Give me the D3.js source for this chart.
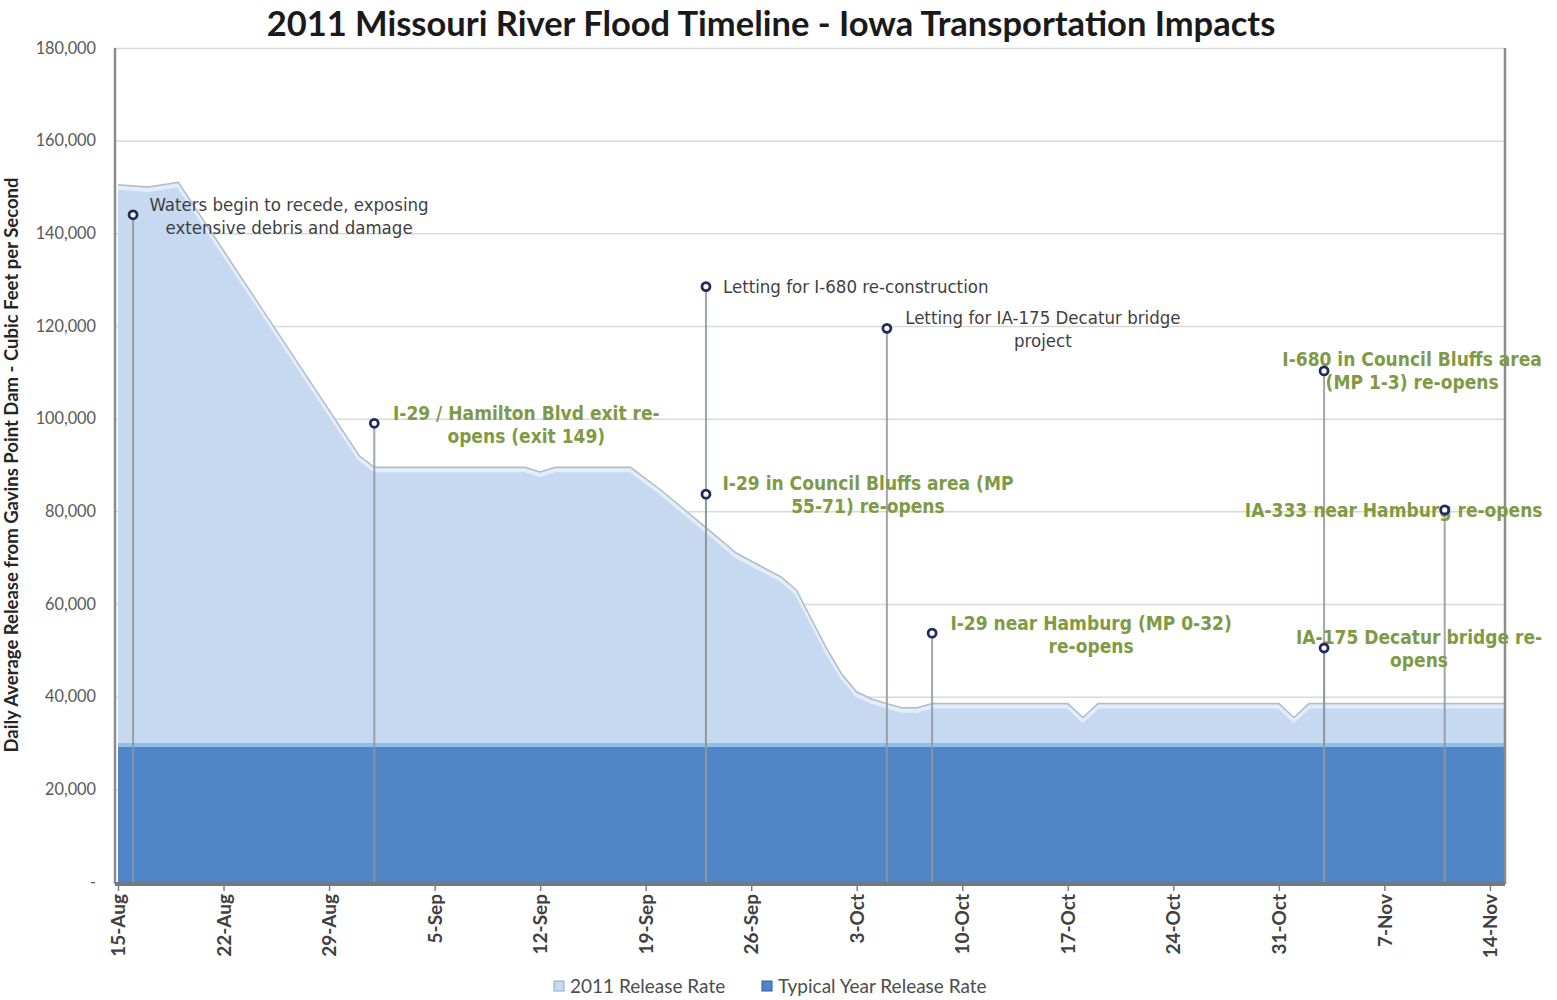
<!DOCTYPE html>
<html lang="en">
<head>
  <meta charset="UTF-8">
  <title>2011 Missouri River Flood Timeline - Iowa Transportation Impacts</title>
  <script src="https://d3js.org/d3.v7.min.js"></script>
  <style>
    body { margin: 0; background: #ffffff; overflow: hidden; }
    svg { display: block; }
    .grid line { stroke: #d9d9d9; stroke-width: 1.5px; }
    .grid .domain { display: none; }
    .yaxis text { font: 16.3px Lato, "Liberation Sans", sans-serif; fill: #595959; }
    .yaxis .domain, .yaxis line { display: none; }
    .xaxis text { font: bold 19px Lato, "Liberation Sans", sans-serif; fill: #404040; }
    .xaxis line { stroke: #7f7f7f; stroke-width: 1.5px; }
    .xaxis .domain { display: none; }
    .note-dark { font: 18.5px "DejaVu Sans Condensed", "DejaVu Sans", sans-serif; fill: #3f3f3f; }
    .note-green { font: bold 19px "DejaVu Sans Condensed", "DejaVu Sans", sans-serif; fill: #7f9a45; }
  </style>
</head>
<body>
  <svg id="chart" width="1557" height="1000"></svg>

  <script>
    // 2011 release rate (cfs)
    const releaseDates = [
      "2011-08-15", "2011-08-17", "2011-08-19", "2011-08-31", "2011-09-01",
      "2011-09-11", "2011-09-12", "2011-09-13", "2011-09-18", "2011-09-20",
      "2011-09-23", "2011-09-25", "2011-09-28", "2011-09-29", "2011-10-01",
      "2011-10-02", "2011-10-03", "2011-10-04", "2011-10-05", "2011-10-06",
      "2011-10-07", "2011-10-08", "2011-10-17", "2011-10-18", "2011-10-19",
      "2011-10-31", "2011-11-01", "2011-11-02", "2011-11-15"
    ];
    const releaseValues = [
      150500, 150000, 151000, 92000, 89500,
      89500, 88500, 89500, 89500, 84600,
      76500, 71000, 65800, 63000, 50400,
      44900, 41000, 39500, 38500, 37600,
      37600, 38500, 38500, 35500, 38500,
      38500, 35500, 38500, 38500
    ];

    // typical year release rate
    const typicalDates = ["2011-08-15", "2011-11-15"];
    const typicalValues = [30000, 30000];

    // timeline events
    const eventDates = [
      "2011-08-16", "2011-09-01", "2011-09-23", "2011-09-23", "2011-10-05",
      "2011-10-08", "2011-11-03", "2011-11-03", "2011-11-11"
    ];
    const eventValues = [144000, 99000, 128500, 83700, 119500, 53700, 110300, 50500, 80300];
    const eventLabels = [
      ["Waters begin to recede, exposing", "extensive debris and damage"],
      ["I-29 / Hamilton Blvd exit re-", "opens (exit 149)"],
      ["Letting for I-680 re-construction"],
      ["I-29 in Council Bluffs area (MP", "55-71) re-opens"],
      ["Letting for IA-175 Decatur bridge", "project"],
      ["I-29 near Hamburg (MP 0-32)", "re-opens"],
      ["I-680 in Council Bluffs area", "(MP 1-3) re-opens"],
      ["IA-175 Decatur bridge re-", "opens"],
      ["IA-333 near Hamburg re-opens"]
    ];
    const eventKinds = ["note", "reopen", "note", "reopen", "note", "reopen", "reopen", "reopen", "reopen"];

    // label placement relative to each marker (layout only)
    const labelLayout = [
      { dx: 156, dy: -4, anchor: "middle" },
      { dx: 152, dy: -3, anchor: "middle" },
      { dx: 17, dy: 6, anchor: "start" },
      { dx: 162, dy: -4, anchor: "middle" },
      { dx: 156, dy: -4, anchor: "middle" },
      { dx: 159, dy: -3, anchor: "middle" },
      { dx: 88, dy: -5, anchor: "middle" },
      { dx: 95, dy: -4, anchor: "middle" },
      { dx: -51, dy: 7, anchor: "middle" }
    ];

    const yTicks = [0, 20000, 40000, 60000, 80000, 100000, 120000, 140000, 160000, 180000];
    const xTickDates = [
      "2011-08-15", "2011-08-22", "2011-08-29", "2011-09-05", "2011-09-12", "2011-09-19",
      "2011-09-26", "2011-10-03", "2011-10-10", "2011-10-17", "2011-10-24", "2011-10-31",
      "2011-11-07", "2011-11-14"
    ];
    const seriesNames = ["2011 Release Rate", "Typical Year Release Rate"];

    const parseDate = d3.utcParse("%Y-%m-%d");
    const plotLeft = 115, plotRight = 1505, plotTop = 48, plotBottom = 882;

    const x = d3.scaleUtc()
      .domain([parseDate("2011-08-15"), parseDate("2011-11-15")])
      .range([118, plotRight]);
    const y = d3.scaleLinear().domain([0, 180000]).range([plotBottom, plotTop]);

    const svg = d3.select("#chart");

    const release = releaseDates.map((d, i) => ({ date: parseDate(d), value: releaseValues[i] }));
    const typical = typicalDates.map((d, i) => ({ date: parseDate(d), value: typicalValues[i] }));

    // title
    svg.append("text")
      .attr("x", 771).attr("y", 36)
      .attr("text-anchor", "middle")
      .style("font", "bold 34.5px Lato, 'Liberation Sans', sans-serif")
      .style("fill", "#1a1a1a")
      .text("2011 Missouri River Flood Timeline - Iowa Transportation Impacts");

    // gridlines
    svg.append("g")
      .attr("class", "grid")
      .attr("transform", `translate(${plotLeft},0)`)
      .call(d3.axisLeft(y).tickValues(yTicks.slice(1)).tickSize(-(plotRight - plotLeft)).tickFormat(""));

    svg.append("defs").append("clipPath").attr("id", "plot")
      .append("rect").attr("x", plotLeft).attr("y", plotTop)
      .attr("width", plotRight - plotLeft).attr("height", plotBottom - plotTop);

    const plot = svg.append("g").attr("clip-path", "url(#plot)");

    const area = d3.area().x(d => x(d.date)).y0(y(0)).y1(d => y(d.value));
    const line = d3.line().x(d => x(d.date)).y(d => y(d.value));

    // 2011 release area
    plot.append("path").datum(release)
      .attr("d", area)
      .attr("fill", "#c6d9f1");
    plot.append("path").datum(release)
      .attr("d", line)
      .attr("transform", "translate(0,3)")
      .attr("fill", "none")
      .attr("stroke", "#e3edf9")
      .attr("stroke-width", 4);
    plot.append("path").datum(release)
      .attr("d", line)
      .attr("fill", "none")
      .attr("stroke", "#b2bcc8")
      .attr("stroke-width", 1.5);

    // typical year area
    plot.append("path").datum(typical)
      .attr("d", area)
      .attr("fill", "#5086c8");
    plot.append("path").datum(typical)
      .attr("d", line)
      .attr("transform", "translate(0,2)")
      .attr("fill", "none")
      .attr("stroke", "#8fbdec")
      .attr("stroke-width", 4);

    // y axis labels
    svg.append("g")
      .attr("class", "yaxis")
      .attr("transform", `translate(${plotLeft},0)`)
      .call(d3.axisLeft(y).tickValues(yTicks).tickSize(0).tickPadding(19)
        .tickFormat(d => d === 0 ? "-" : d3.format(",")(d)));

    svg.append("text")
      .attr("transform", `translate(18,${(165 + 765) / 2}) rotate(-90)`)
      .attr("text-anchor", "middle")
      .style("font", "bold 18.5px Lato, 'Liberation Sans', sans-serif")
      .style("fill", "#262626")
      .text("Daily Average Release from Gavins Point Dam - Cubic Feet per Second");

    // event stems, markers and labels
    const events = eventDates.map((d, i) => ({
      date: parseDate(d), value: eventValues[i], lines: eventLabels[i],
      kind: eventKinds[i], pos: labelLayout[i]
    }));

    svg.append("g").selectAll("line")
      .data(events).join("line")
      .attr("x1", d => x(d.date)).attr("x2", d => x(d.date))
      .attr("y1", d => y(d.value)).attr("y2", plotBottom)
      .attr("stroke", "#8f969e")
      .attr("stroke-opacity", 0.85)
      .attr("stroke-width", 2);

    // plot frame
    svg.append("line").attr("x1", plotLeft).attr("x2", plotLeft).attr("y1", plotTop).attr("y2", plotBottom + 2)
      .attr("stroke", "#8c8c8c").attr("stroke-width", 2.5);
    svg.append("line").attr("x1", plotRight).attr("x2", plotRight).attr("y1", plotTop).attr("y2", plotBottom + 2)
      .attr("stroke", "#8c8c8c").attr("stroke-width", 2.5);
    svg.append("line").attr("x1", plotLeft).attr("x2", plotRight).attr("y1", plotBottom + 2).attr("y2", plotBottom + 2)
      .attr("stroke", "#707a86").attr("stroke-width", 4);

    const labels = svg.append("g").selectAll("text")
      .data(events).join("text")
      .attr("class", d => d.kind === "note" ? "note-dark" : "note-green")
      .attr("text-anchor", d => d.pos.anchor)
      .attr("x", d => x(d.date) + d.pos.dx)
      .attr("y", d => y(d.value) + d.pos.dy);
    labels.selectAll("tspan")
      .data(d => d.lines.map((t, i) => ({ t, i, px: x(d.date) + d.pos.dx })))
      .join("tspan")
      .attr("x", d => d.px)
      .attr("dy", d => d.i === 0 ? 0 : 23)
      .text(d => d.t);

    svg.append("g").selectAll("circle")
      .data(events).join("circle")
      .attr("cx", d => x(d.date)).attr("cy", d => y(d.value))
      .attr("r", 4)
      .attr("fill", "#ffffff")
      .attr("stroke", "#1f2b5e")
      .attr("stroke-width", 2.8);

    // x axis
    const xAxis = svg.append("g")
      .attr("class", "xaxis")
      .attr("transform", `translate(0,${plotBottom + 3})`)
      .call(d3.axisBottom(x).tickValues(xTickDates.map(parseDate)).tickSize(6)
        .tickFormat(d3.utcFormat("%-d-%b")));
    xAxis.selectAll("text")
      .attr("transform", "rotate(-90)")
      .attr("x", -9).attr("y", 0).attr("dy", "0.35em")
      .style("text-anchor", "end");

    // legend
    const legend = svg.append("g").attr("transform", "translate(554,987)");
    const legendX = [0, 208];
    const legendFill = ["#c6d9f1", "#5086c8"];
    const legendStroke = ["#8ea9c8", "#2f5f9e"];
    const item = legend.selectAll("g").data(seriesNames).join("g")
      .attr("transform", (d, i) => `translate(${legendX[i]},0)`);
    item.append("rect")
      .attr("x", 0).attr("y", -6).attr("width", 10).attr("height", 10)
      .attr("fill", (d, i) => legendFill[i])
      .attr("stroke", (d, i) => legendStroke[i]);
    item.append("text")
      .attr("x", 16).attr("y", 6)
      .style("font", "19px Lato, 'Liberation Sans', sans-serif")
      .style("fill", "#4d4d4d")
      .text(d => d);
  </script>
</body>
</html>
